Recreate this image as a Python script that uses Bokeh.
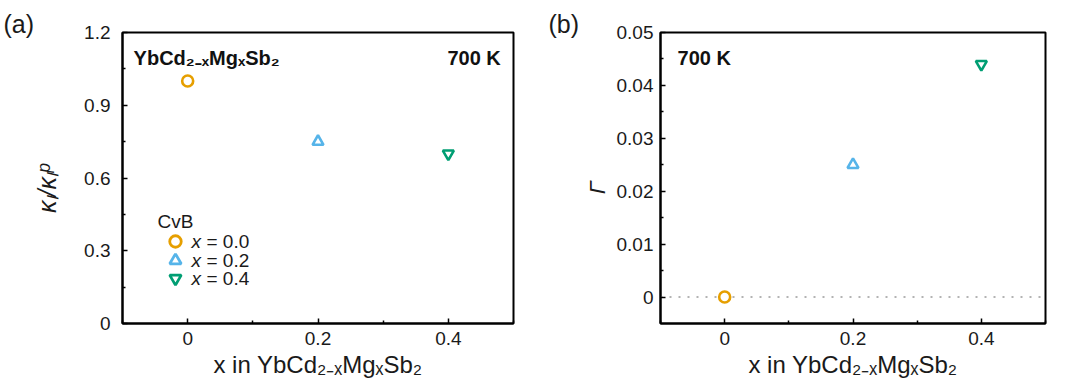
from bokeh.plotting import figure
from bokeh.models import Range1d, FixedTicker, Label, Span, Title
from bokeh.layouts import row
from bokeh.embed import file_html
from bokeh.resources import INLINE

# ---------------- data ----------------
x_comp = [0.0, 0.2, 0.4]
kappa_ratio = [1.00, 0.75, 0.70]
gamma = [0.0, 0.025, 0.044]
series_values_text = ["0.0", "0.2", "0.4"]
series_markers = ["circle", "triangle", "inverted_triangle"]
series_colors = ["#E69F00", "#56B4E9", "#009E73"]
legend_title = "CvB"

x_ticks = [0.0, 0.2, 0.4]
x_tick_labels = ["0", "0.2", "0.4"]
x_minor = [-0.1, 0.1, 0.3, 0.5]
ya_ticks = [0.0, 0.3, 0.6, 0.9, 1.2]
ya_tick_labels = ["0", "0.3", "0.6", "0.9", "1.2"]
ya_minor = [0.15, 0.45, 0.75, 1.05]
yb_ticks = [0.0, 0.01, 0.02, 0.03, 0.04, 0.05]
yb_tick_labels = ["0", "0.01", "0.02", "0.03", "0.04", "0.05"]
yb_minor = [0.005, 0.015, 0.025, 0.035, 0.045]

# legend layout (positions inside panel a, in its data coordinates)
legend_title_pos = (-0.0463, 0.4206)
legend_marker_x = -0.0187
legend_x_text_x = 0.0059
legend_val_text_x = 0.0289
legend_row_y = [0.3381, 0.2598, 0.1856]

FONT = "Liberation Sans"
TXT = "#1a1a1a"
NB = "\u00A0"
XLABEL = "x in YbCd\u2082\u208B\u2093Mg\u2093Sb\u2082"


def style(p, xt, xtl, xm, yt, ytl, ym, y_tick_standoff, y_label_standoff):
    p.outline_line_color = "black"
    p.outline_line_width = 2
    p.outline_line_alpha = 1
    p.xgrid.visible = False
    p.ygrid.visible = False
    p.xaxis.ticker = FixedTicker(ticks=xt, minor_ticks=xm)
    p.xaxis.major_label_overrides = {t: l for t, l in zip(xt, xtl)}
    p.yaxis.ticker = FixedTicker(ticks=yt, minor_ticks=ym)
    p.yaxis.major_label_overrides = {t: l for t, l in zip(yt, ytl)}
    for ax in (p.xaxis[0], p.yaxis[0]):
        ax.axis_line_width = 2
        ax.axis_line_color = "black"
        ax.major_tick_in = 5
        ax.major_tick_out = 0
        ax.minor_tick_in = 3
        ax.minor_tick_out = 0
        ax.major_tick_line_width = 1.5
        ax.minor_tick_line_width = 1.5
        ax.major_tick_line_color = "black"
        ax.minor_tick_line_color = "black"
        ax.major_label_text_font = FONT
        ax.major_label_text_font_size = "19px"
        ax.major_label_text_color = TXT
        ax.axis_label_text_font = FONT
        ax.axis_label_text_font_size = "24px"
        ax.axis_label_text_color = TXT
        ax.axis_label_text_font_style = "normal"
    p.xaxis.major_label_standoff = 8
    p.xaxis.axis_label_standoff = 3
    p.yaxis.major_label_standoff = y_tick_standoff
    p.yaxis.axis_label_standoff = y_label_standoff


def panel_tag(p, text, offset):
    p.add_layout(Title(text=text, align="left", offset=offset, standoff=-10,
                       text_font=FONT, text_font_size="25px", text_font_style="normal",
                       text_color=TXT), "above")


# ---------------- panel (a) ----------------
p1 = figure(width=530, height=386, x_range=Range1d(-0.1, 0.5), y_range=Range1d(0, 1.2),
            output_backend="svg", toolbar_location=None, title=None,
            min_border_left=122, min_border_right=17, min_border_top=32, min_border_bottom=63)
p1.xaxis.axis_label = XLABEL
p1.yaxis.axis_label = "\u03BA\u2097/\u03BA\u2097\u1D56" + NB * 3
style(p1, x_ticks, x_tick_labels, x_minor, ya_ticks, ya_tick_labels, ya_minor, 12, 20)
p1.yaxis.axis_label_text_font_style = "italic"
p1.yaxis.axis_label_text_font_size = "25px"
panel_tag(p1, "(a)", -119)

for i in range(3):
    p1.scatter(x=[x_comp[i]], y=[kappa_ratio[i]], marker=series_markers[i], size=11,
               line_color=series_colors[i], line_width=2.6, fill_color="white")

# legend (drawn by hand so that its rows sit as close as in the reference)
p1.add_layout(Label(x=legend_title_pos[0], y=legend_title_pos[1], text=legend_title,
                    text_font=FONT, text_font_size="19px", text_color=TXT,
                    text_baseline="middle", text_align="left"))
for i in range(3):
    p1.scatter(x=[legend_marker_x], y=[legend_row_y[i]], marker=series_markers[i], size=11.5,
               line_color=series_colors[i], line_width=2.8, fill_color="white")
    p1.add_layout(Label(x=legend_x_text_x, y=legend_row_y[i], text="x", text_font=FONT,
                        text_font_size="19px", text_font_style="italic", text_color=TXT,
                        text_baseline="middle", text_align="left"))
    p1.add_layout(Label(x=legend_val_text_x, y=legend_row_y[i], text="= " + series_values_text[i],
                        text_font=FONT, text_font_size="19px", text_color=TXT,
                        text_baseline="middle", text_align="left"))

p1.add_layout(Label(x=-0.083, y=1.093, text="YbCd\u2082\u208B\u2093Mg\u2093Sb\u2082", text_font=FONT,
                    text_font_size="20px", text_font_style="bold",
                    text_baseline="middle", text_align="left", text_color="#111111"))
p1.add_layout(Label(x=0.4805, y=1.093, text="700 K", text_font=FONT,
                    text_font_size="20px", text_font_style="bold",
                    text_baseline="middle", text_align="right", text_color="#111111"))

# ---------------- panel (b) ----------------
p2 = figure(width=539, height=386, x_range=Range1d(-0.1, 0.5), y_range=Range1d(-0.005, 0.05),
            output_backend="svg", toolbar_location=None, title=None,
            min_border_left=130, min_border_right=24, min_border_top=32, min_border_bottom=63)
p2.xaxis.axis_label = XLABEL
p2.yaxis.axis_label = "\u0393" + NB * 3
style(p2, x_ticks, x_tick_labels, x_minor, yb_ticks, yb_tick_labels, yb_minor, 7, 4)
p2.yaxis.axis_label_text_font_style = "italic"
p2.yaxis.axis_label_text_font_size = "23px"
panel_tag(p2, "(b)", -112)

zero_line = Span(location=0, dimension="width", line_color="#9a9a9a", line_width=1.6,
                 line_dash="2 7", level="underlay")
p2.add_layout(zero_line)

for i in range(3):
    p2.scatter(x=[x_comp[i]], y=[gamma[i]], marker=series_markers[i], size=11,
               line_color=series_colors[i], line_width=2.6, fill_color="white")

p2.add_layout(Label(x=-0.0735, y=0.04527, text="700 K", text_font=FONT,
                    text_font_size="20px", text_font_style="bold",
                    text_baseline="middle", text_align="left", text_color="#111111"))

layout = row(p1, p2)
open("out.html", "w").write(file_html(layout, INLINE))
